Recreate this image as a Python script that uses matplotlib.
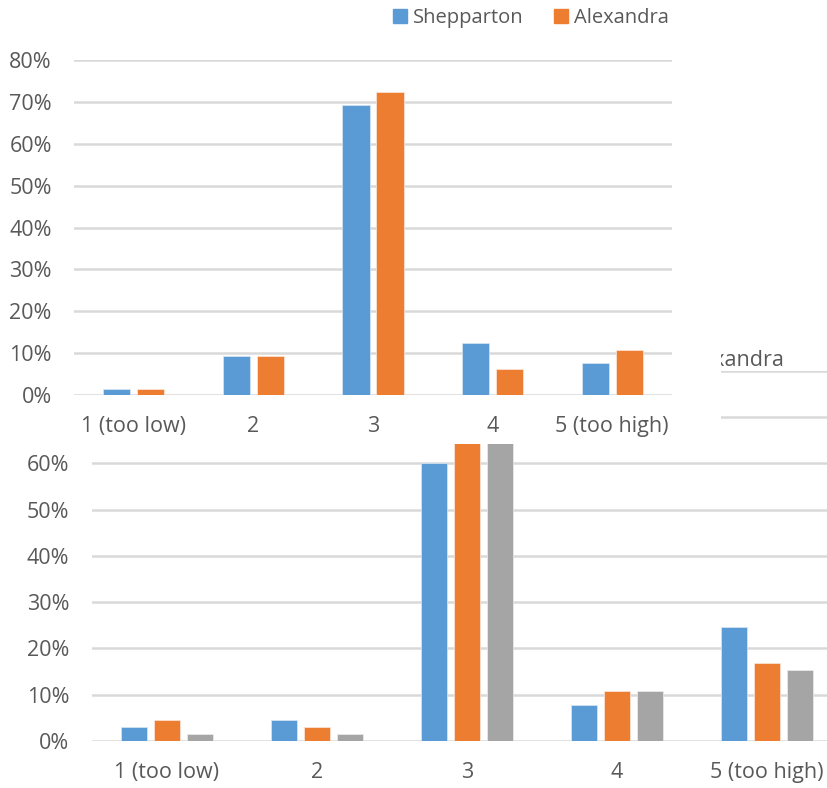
import matplotlib
matplotlib.use("Agg")
import matplotlib.pyplot as plt
import numpy as np
from matplotlib.patches import Rectangle, Patch
from matplotlib.ticker import PercentFormatter

plt.rcParams['font.family'] = ['Open Sans', 'DejaVu Sans']

categories = ["1 (too low)", "2", "3", "4", "5 (too high)"]

# Upper chart: two towns
top_series = ["Shepparton", "Alexandra"]
top_shepparton = [0.015, 0.092, 0.692, 0.123, 0.077]
top_alexandra = [0.015, 0.092, 0.723, 0.062, 0.108]

# Lower chart: three series
low_series = ["Shepparton", "Alexandra", "Other"]
low_shepparton = [0.031, 0.046, 0.600, 0.077, 0.246]
low_alexandra = [0.046, 0.031, 0.646, 0.108, 0.169]
low_other = [0.015, 0.015, 0.708, 0.108, 0.154]

BLUE = "#5b9bd5"
ORANGE = "#ed7d31"
GRAY = "#a5a5a5"
EDGES = {BLUE: "#dbe8f5", ORANGE: "#fbe9dd", GRAY: "#ededed"}
TEXT = "#595959"
GRID = "#d9d9d9"
FS = 15.5

W, H = 828, 788
fig = plt.figure(figsize=(W / 100, H / 100), dpi=100)


def px_axes(x0, x1, y_top, y_bot):
    return [x0 / W, 1 - y_bot / H, (x1 - x0) / W, (y_bot - y_top) / H]


def style(ax, ymax, step, ypad):
    ax.set_ylim(0, ymax)
    ax.set_yticks(np.arange(0, ymax + 1e-9, step))
    ax.yaxis.set_major_formatter(PercentFormatter(1.0, decimals=0))
    ax.grid(axis='y', color=GRID, linewidth=1.8)
    ax.set_axisbelow(True)
    for s in ax.spines.values():
        s.set_visible(False)
    ax.tick_params(axis='both', length=0, labelsize=FS, labelcolor=TEXT)
    ax.tick_params(axis='y', pad=ypad)
    ax.tick_params(axis='x', pad=15)


# ---- lower chart (drawn first, partly covered) ----
ax2 = fig.add_axes(px_axes(92, 842, 370.6, 741), zorder=1)
x = np.arange(len(categories))
bw, pitch = 0.172, 0.22
for off, vals, c in zip((-pitch, 0, pitch), (low_shepparton, low_alexandra, low_other), (BLUE, ORANGE, GRAY)):
    ax2.bar(x + off, vals, width=bw, color=c, edgecolor=EDGES[c], linewidth=0.5)
ax2.set_xlim(-0.5, len(categories) - 0.5)
ax2.set_xticks(x)
ax2.set_xticklabels(categories)
style(ax2, 0.8, 0.1, 16.5)

# lower chart legend (mostly hidden behind the upper chart)
fig.text(784 / W, 1 - 360 / H, "Alexandra", ha='right', va='center', fontsize=FS, color=TEXT, zorder=1.5)
fig.patches.append(Rectangle((670 / W, 1 - 366 / H), 13 / W, 13 / H, transform=fig.transFigure,
                             color=ORANGE, zorder=1.5))

# white panel of the upper chart
fig.patches.append(Rectangle((0, 1 - 444 / H), 721 / W, 444 / H, transform=fig.transFigure,
                             facecolor='white', edgecolor='none', zorder=2))

# ---- upper chart ----
ax1 = fig.add_axes(px_axes(74, 672, 60, 395), zorder=3)
ax1.patch.set_alpha(0)
bw1, pitch1 = 0.228, 0.142
ax1.bar(x - pitch1, top_shepparton, width=bw1, color=BLUE, edgecolor=EDGES[BLUE], linewidth=0.5, label=top_series[0])
ax1.bar(x + pitch1, top_alexandra, width=bw1, color=ORANGE, edgecolor=EDGES[ORANGE], linewidth=0.5, label=top_series[1])
ax1.set_xlim(-0.5, len(categories) - 0.5)
ax1.set_xticks(x)
ax1.set_xticklabels(categories)
style(ax1, 0.8, 0.1, 16)

handles = [Patch(color=BLUE, label=top_series[0]), Patch(color=ORANGE, label=top_series[1])]
fig.legend(handles=handles, loc='center', bbox_to_anchor=(531 / W, 1 - 18 / H), ncol=2, frameon=False,
           fontsize=14.5, labelcolor=TEXT, handlelength=0.68, handleheight=0.68, handletextpad=0.3,
           columnspacing=1.5, borderaxespad=0)

fig.savefig("out.png", dpi=100, facecolor='white')
